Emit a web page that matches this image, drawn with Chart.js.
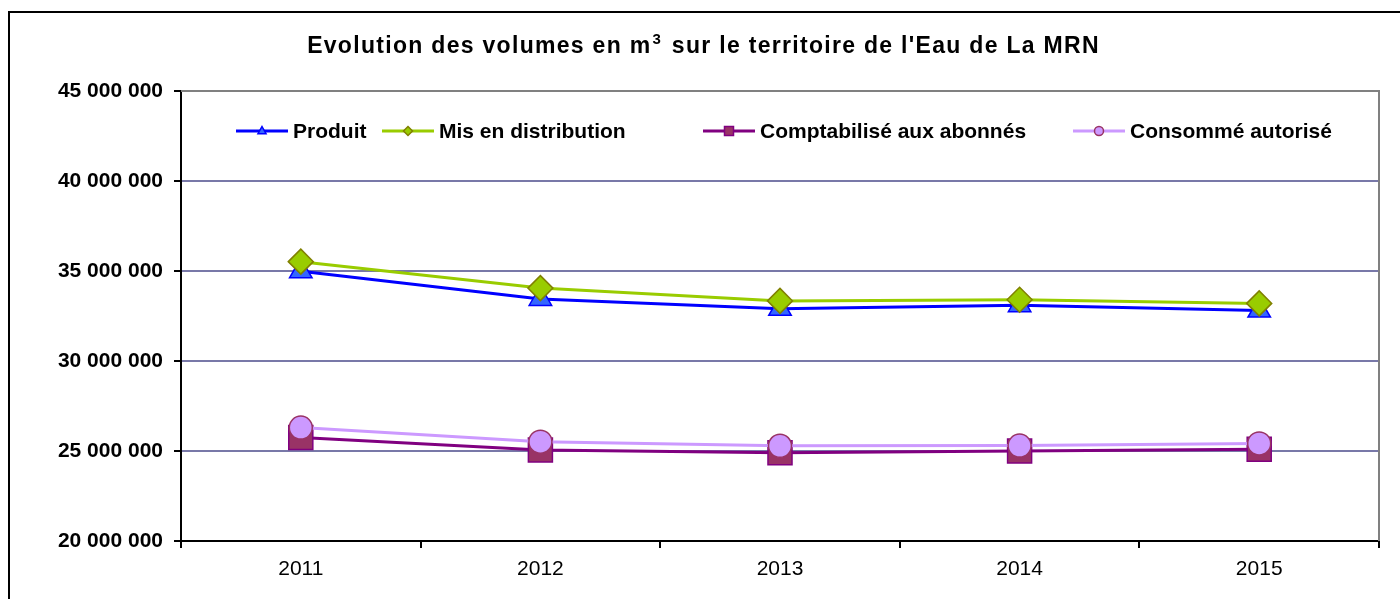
<!DOCTYPE html>
<html lang="fr">
<head>
    <meta charset="UTF-8">
    <title>Evolution des volumes</title>
    <script src="https://cdn.jsdelivr.net/npm/chart.js"></script>
    <style>
        body {
            margin: 0;
            padding: 0;
            background: #ffffff;
        }
        canvas {
            display: block;
        }
    </style>
</head>
<body>
    <canvas id="volChart" width="1400" height="599"></canvas>

    <script>
        // Data (m3)
        const years = ['2011', '2012', '2013', '2014', '2015'];
        const produit = [34980000, 33450000, 32900000, 33100000, 32800000];
        const misEnDistribution = [35520000, 34050000, 33340000, 33400000, 33200000];
        const comptabilise = [25750000, 25060000, 24900000, 25000000, 25100000];
        const consomme = [26300000, 25520000, 25290000, 25300000, 25420000];
        const yTicks = [20000000, 25000000, 30000000, 35000000, 40000000, 45000000];

        // title split around the superscript
        const titleStart = 'Evolution des volumes en m';
        const titleSup = '3';
        const titleEnd = " sur le territoire de l'Eau de La MRN";
        const FONT = "'Liberation Sans', Arial, sans-serif";

        function fmt(v) {
            return String(v).replace(/\B(?=(\d{3})+(?!\d))/g, ' ');
        }

        // Draw one marker shape (used for the custom legend)
        function marker(ctx, style, x, y, r, fill, stroke) {
            ctx.save();
            ctx.fillStyle = fill;
            ctx.strokeStyle = stroke;
            ctx.lineWidth = 1.5;
            ctx.beginPath();
            if (style === 'triangle') {
                ctx.moveTo(x, y - r);
                ctx.lineTo(x + r * 0.9, y + r * 0.6);
                ctx.lineTo(x - r * 0.9, y + r * 0.6);
                ctx.closePath();
            } else if (style === 'rectRot') {
                ctx.moveTo(x, y - r);
                ctx.lineTo(x + r, y);
                ctx.lineTo(x, y + r);
                ctx.lineTo(x - r, y);
                ctx.closePath();
            } else if (style === 'rect') {
                ctx.rect(x - r, y - r, 2 * r, 2 * r);
            } else {
                ctx.arc(x, y, r, 0, Math.PI * 2);
            }
            ctx.fill();
            ctx.stroke();
            ctx.restore();
        }

        // Frame, title, plot border and legend drawn by hand
        const decorations = {
            id: 'decorations',
            beforeDraw(chart) {
                const ctx = chart.ctx;
                ctx.save();
                ctx.fillStyle = '#ffffff';
                ctx.fillRect(0, 0, chart.width, chart.height);
                ctx.strokeStyle = '#000000';
                ctx.lineWidth = 2;
                ctx.strokeRect(9, 12, 1420, 700);

                // title with a real superscript 3
                const big = 'bold 23px ' + FONT;
                const small = 'bold 15px ' + FONT;
                ctx.fillStyle = '#000000';
                ctx.letterSpacing = '1.3px';
                ctx.textAlign = 'left';
                ctx.textBaseline = 'alphabetic';
                ctx.font = big;
                const w1 = ctx.measureText(titleStart).width;
                const w3 = ctx.measureText(titleEnd).width;
                ctx.font = small;
                const w2 = ctx.measureText(titleSup).width + 2;
                let x = 703 - (w1 + w2 + w3) / 2;
                const base = 53;
                ctx.font = big;
                ctx.fillText(titleStart, x, base);
                x += w1 + 1;
                ctx.font = small;
                ctx.fillText(titleSup, x, base - 9);
                x += w2;
                ctx.font = big;
                ctx.fillText(titleEnd, x, base);
                ctx.restore();
            },
            beforeDatasetsDraw(chart) {
                const ctx = chart.ctx;
                const a = chart.chartArea;
                ctx.save();
                ctx.strokeStyle = '#808080';
                ctx.lineWidth = 2;
                ctx.beginPath();
                ctx.moveTo(a.left, a.top);
                ctx.lineTo(a.right, a.top);
                ctx.lineTo(a.right, a.bottom);
                ctx.stroke();
                ctx.restore();
            },
            afterDraw(chart) {
                const ctx = chart.ctx;
                const y = 131;
                const items = [
                    { x: 236, ds: chart.data.datasets[0] },
                    { x: 382, ds: chart.data.datasets[1] },
                    { x: 703, ds: chart.data.datasets[2] },
                    { x: 1073, ds: chart.data.datasets[3] }
                ];
                ctx.save();
                items.forEach(it => {
                    const ds = it.ds;
                    ctx.strokeStyle = ds.borderColor;
                    ctx.lineWidth = 3;
                    ctx.beginPath();
                    ctx.moveTo(it.x, y);
                    ctx.lineTo(it.x + 52, y);
                    ctx.stroke();
                    marker(ctx, ds.pointStyle, it.x + 26, y, 4.5,
                        ds.pointBackgroundColor, ds.pointBorderColor);
                    ctx.fillStyle = '#000000';
                    ctx.font = 'bold 21px ' + FONT;
                    ctx.textAlign = 'left';
                    ctx.textBaseline = 'middle';
                    ctx.fillText(ds.label, it.x + 57, y + 1);
                });
                ctx.restore();
            }
        };

        const ctx = document.getElementById('volChart').getContext('2d');
        new Chart(ctx, {
            type: 'line',
            data: {
                labels: years,
                datasets: [
                    {
                        label: 'Produit',
                        data: produit,
                        borderColor: '#0000FF',
                        borderWidth: 3,
                        pointStyle: 'triangle',
                        pointRadius: 13,
                        pointBackgroundColor: '#3366FF',
                        pointBorderColor: '#0000FF',
                        pointBorderWidth: 1.5,
                        order: 4
                    },
                    {
                        label: 'Mis en distribution',
                        data: misEnDistribution,
                        borderColor: '#99CC00',
                        borderWidth: 3,
                        pointStyle: 'rectRot',
                        pointRadius: 12.5,
                        pointBackgroundColor: '#99CC00',
                        pointBorderColor: '#808000',
                        pointBorderWidth: 1.5,
                        order: 3
                    },
                    {
                        label: 'Comptabilisé aux abonnés',
                        data: comptabilise,
                        borderColor: '#800080',
                        borderWidth: 3,
                        pointStyle: 'rect',
                        pointRadius: 17,
                        pointBackgroundColor: '#993366',
                        pointBorderColor: '#800080',
                        pointBorderWidth: 1.5,
                        order: 2
                    },
                    {
                        label: 'Consommé autorisé',
                        data: consomme,
                        borderColor: '#CC99FF',
                        borderWidth: 3,
                        pointStyle: 'circle',
                        pointRadius: 11.5,
                        pointBackgroundColor: '#CC99FF',
                        pointBorderColor: '#993366',
                        pointBorderWidth: 1.5,
                        order: 1
                    }
                ]
            },
            options: {
                responsive: false,
                animation: false,
                events: [],
                layout: {
                    padding: { left: 0, top: 91, right: 21, bottom: 0 }
                },
                plugins: {
                    legend: { display: false },
                    title: { display: false },
                    tooltip: { enabled: false }
                },
                elements: {
                    line: { tension: 0 }
                },
                scales: {
                    x: {
                        offset: true,
                        afterFit: s => { s.height = 58; },
                        grid: {
                            offset: true,
                            drawOnChartArea: false,
                            color: '#000000',
                            tickLength: 7,
                            lineWidth: 2
                        },
                        border: { display: true, color: '#000000', width: 2 },
                        ticks: {
                            color: '#000000',
                            padding: 9,
                            font: { family: FONT, size: 21 }
                        }
                    },
                    y: {
                        min: 20000000,
                        max: 45000000,
                        afterFit: s => { s.width = 181; },
                        afterBuildTicks: s => { s.ticks = yTicks.map(v => ({ value: v })); },
                        grid: {
                            color: '#7878A8',
                            lineWidth: 2,
                            tickLength: 7,
                            tickColor: '#000000'
                        },
                        border: { display: true, color: '#000000', width: 2 },
                        ticks: {
                            color: '#000000',
                            padding: 11,
                            font: { family: FONT, size: 21, weight: 'bold' },
                            callback: v => fmt(v)
                        }
                    }
                }
            },
            plugins: [decorations]
        });
    </script>
</body>
</html>
